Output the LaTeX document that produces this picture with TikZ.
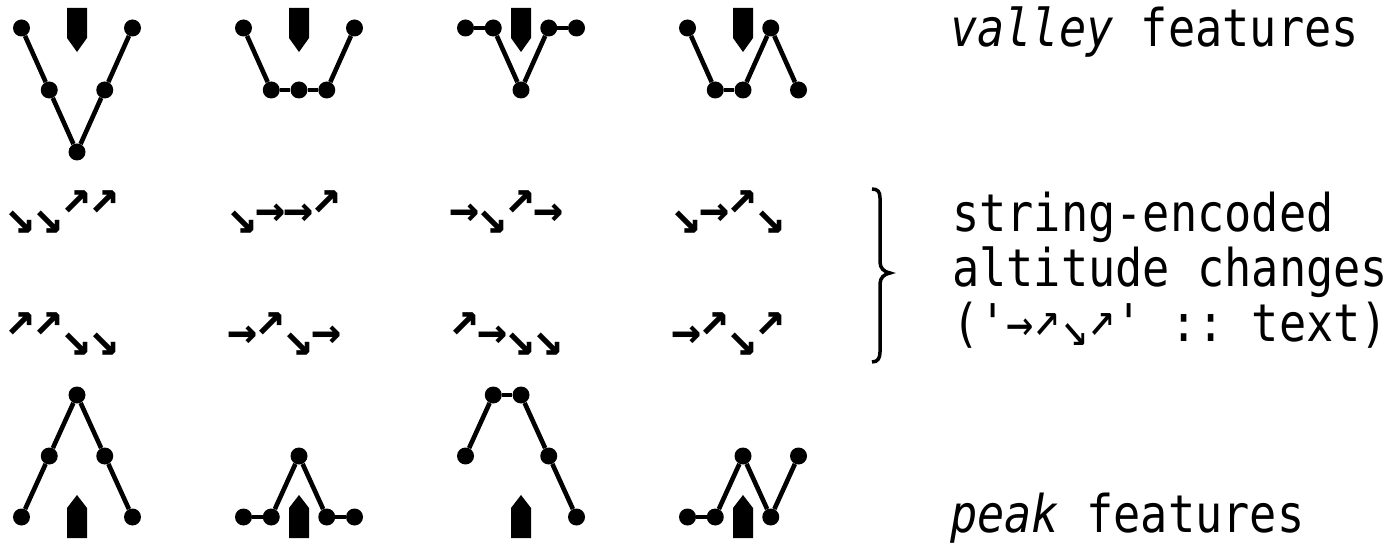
\documentclass[tikz,border=0pt]{standalone}
\usepackage{fontspec}
\setmonofont{DejaVu Sans Mono}[FakeStretch=0.87]
\newfontfamily\arrowfont{DejaVu Sans Mono}
\def\gu{↗}\def\gd{↘}\def\gr{→}
\def\dyu{-13}\def\dyd{7.5}\def\dyr{0}
\newcommand\ag[4]{\node[arr] (#1) at (#2,{#3+\csname dy#4\endcsname}) {\csname g#4\endcsname};}
\begin{document}
\begin{tikzpicture}[x=1pt,y=-1pt,
  dot/.style={circle,fill=black,inner sep=0pt,minimum size=17pt},
  seg/.style={line width=4.6pt},
  arr/.style={inner sep=0pt,font=\arrowfont\bfseries\fontsize{50}{50}\selectfont},
  lbl/.style={inner sep=0pt,anchor=base west,font=\ttfamily\fontsize{52}{55}\selectfont},
  brace/.style={line width=3.5pt}]
\useasboundingbox (0,0) rectangle (1398,545);
% valley features
\foreach \c/\X/\la/\lb/\lc/\ld/\le in {1/77/0/1/2/1/0, 2/299/0/1/1/1/0, 3/521/0/0/1/0/0, 4/743/0/1/1/0/1} {
  \foreach \i/\l in {1/\la,2/\lb,3/\lc,4/\ld,5/\le}
    \node[dot] (v\c-\i) at ({\X+(\i-3)*27.75}, {28+\l*62}) {};
  \foreach \i [evaluate=\i as \j using int(\i+1)] in {1,...,4}
    \draw[seg] (v\c-\i) -- (v\c-\j);
  \fill (\X-10,8) -- (\X+10,8) -- (\X+10,38) -- (\X,52) -- (\X-10,38) -- cycle;
}
% peak features
\foreach \c/\X/\la/\lb/\lc/\ld/\le in {1/77/0/1/2/1/0, 2/299/0/0/1/0/0, 3/521/1/2/2/1/0, 4/743/0/0/1/0/1} {
  \foreach \i/\l in {1/\la,2/\lb,3/\lc,4/\ld,5/\le}
    \node[dot] (p\c-\i) at ({\X+(\i-3)*27.75}, {517-\l*61}) {};
  \foreach \i [evaluate=\i as \j using int(\i+1)] in {1,...,4}
    \draw[seg] (p\c-\i) -- (p\c-\j);
  \fill (\X-10,538) -- (\X+10,538) -- (\X+10,508) -- (\X,495) -- (\X-10,508) -- cycle;
}
% arrow strings
\foreach \nm/\X/\Y/\a/\b/\cc/\d in {
  sa1/77/215/d/d/u/u, sa2/299/215/d/r/r/u, sa3/521/215/r/d/u/r, sa4/743/215/d/r/u/d,
  sb1/77/337/u/u/d/d, sb2/299/337/r/u/d/r, sb3/521/337/u/r/d/d, sb4/743/337/r/u/d/u} {
  \ag{\nm-1}{\X-56.5}{\Y}{\a}
  \ag{\nm-2}{\X-28.5}{\Y}{\b}
  \ag{\nm-3}{\X}{\Y}{\cc}
  \ag{\nm-4}{\X+27.5}{\Y}{\d}
}
% brace
\draw[brace] (872,189) .. controls (878,189) and (880,192) .. (880,198) -- (880,262)
  .. controls (880,268) and (884,272) .. (890,273)
  .. controls (884,274) and (880,278) .. (880,284) -- (880,352)
  .. controls (880,358) and (878,362) .. (872,362);
% labels
\node[lbl] (valley) at (950,47) {\textit{valley} features};
\node[lbl] (peak) at (950,532) {\textit{peak} features};
\node[lbl] (s1) at (952,232) {string-encoded};
\node[lbl] (s2) at (952,287) {altitude changes};
\node[lbl] (s3) at (952,342) {('→\raisebox{6pt}{↗}\raisebox{-4pt}{↘}\raisebox{6pt}{↗}' :: text)};
\end{tikzpicture}
\end{document}
